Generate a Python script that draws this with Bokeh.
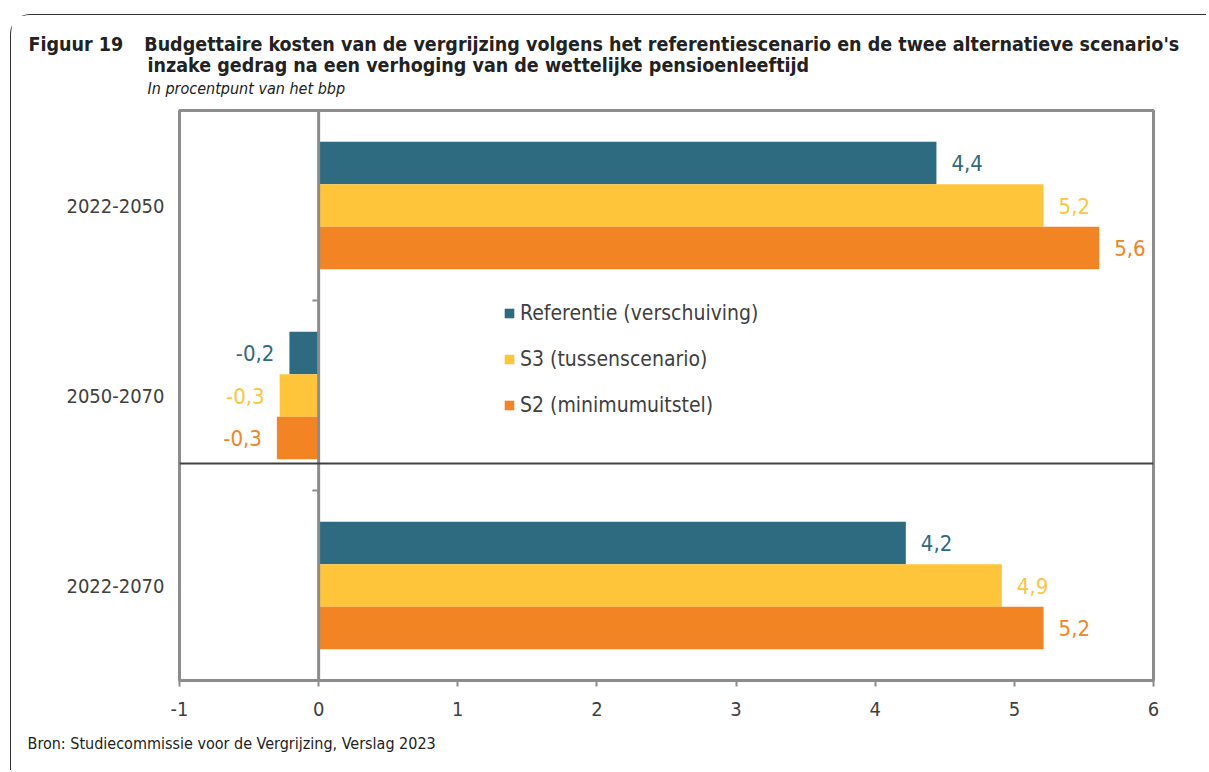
from bokeh.plotting import figure
from bokeh.models import (Range1d, FixedTicker, Span, Legend, LegendItem, Title,
                          ColumnDataSource)
from bokeh.core.properties import value
from bokeh.embed import file_html
from bokeh.resources import INLINE

# ---- data ----
categories = ["2022-2050", "2050-2070", "2022-2070"]
series_names = ["Referentie (verschuiving)", "S3 (tussenscenario)", "S2 (minimumuitstel)"]
referentie = [4.44, -0.21, 4.22]
s3 = [5.21, -0.28, 4.91]
s2 = [5.61, -0.30, 5.21]
x_ticks = [-1, 0, 1, 2, 3, 4, 5, 6]

colors = ["#2E6A80", "#FFC53A", "#F38424"]
FONT = "DejaVu Sans Condensed"
TXT = "#404040"
GRAY = "#8C8C8C"

W, H = 1196, 756
LB, RB, TB, BB = 168, 54, 95, 91
p = figure(width=W, height=H, output_backend="svg", toolbar_location=None,
           x_range=Range1d(-1, 6), y_range=Range1d(0, 3),
           min_border_left=LB, min_border_right=RB, min_border_top=TB, min_border_bottom=BB)
p.margin = (14, 0, 0, 10)
p.styles = {"border-top": "1px solid #333333", "border-left": "1px solid #333333",
            "border-top-left-radius": "20px"}
p.xgrid.visible = False
p.ygrid.visible = False
p.outline_line_color = GRAY
p.outline_line_width = 3
p.background_fill_color = "white"
p.border_fill_color = "white"

fh = H - TB - BB
ky = fh / 3.0

# category positions (top to bottom)
n = len(categories)
centers = [n - 0.5 - i for i in range(n)]
bar_h = 0.2237
offsets = [bar_h, 0.0, -bar_h]

# x axis
p.xaxis.ticker = FixedTicker(ticks=x_ticks)
p.xaxis.major_label_overrides = {t: str(t) for t in x_ticks}
p.xaxis.axis_line_color = GRAY
p.xaxis.axis_line_width = 3
p.xaxis.major_tick_line_color = GRAY
p.xaxis.major_tick_line_width = 2
p.xaxis.major_tick_in = 0
p.xaxis.major_tick_out = 6
p.xaxis.minor_tick_line_color = None
p.xaxis.major_label_text_font = FONT
p.xaxis.major_label_text_font_size = "20px"
p.xaxis.major_label_text_color = TXT
p.xaxis.major_label_standoff = 15

# y axis (category labels)
p.yaxis.ticker = FixedTicker(ticks=centers)
p.yaxis.major_label_overrides = {c: lab for c, lab in zip(centers, categories)}
p.yaxis.axis_line_color = None
p.yaxis.major_tick_line_color = None
p.yaxis.minor_tick_line_color = None
p.yaxis.major_label_text_font = FONT
p.yaxis.major_label_text_font_size = "20px"
p.yaxis.major_label_text_color = TXT
p.yaxis.major_label_standoff = 9

# zero line (category axis) and its ticks at the category boundaries
p.add_layout(Span(location=0, dimension="height", line_color=GRAY, line_width=3))
bounds = [float(i) for i in range(1, n)]
p.segment(x0=[-0.045] * len(bounds), x1=[0] * len(bounds), y0=bounds, y1=bounds,
          line_color=GRAY, line_width=2)

# bars + value labels
renderers = []
for vals, col, off in zip([referentie, s3, s2], colors, offsets):
    ys = [c + off for c in centers]
    labs = [f"{v:.1f}".replace(".", ",") for v in vals]
    src = ColumnDataSource(dict(y=ys, v=vals, lab=labs))
    r = p.hbar(y="y", right="v", left=0, height=bar_h, source=src, fill_color=col, line_color=None)
    renderers.append(r)
    pos = ColumnDataSource(dict(y=[y for y, v in zip(ys, vals) if v >= 0],
                                v=[v for v in vals if v >= 0],
                                lab=[l for l, v in zip(labs, vals) if v >= 0]))
    neg = ColumnDataSource(dict(y=[y for y, v in zip(ys, vals) if v < 0],
                                v=[v for v in vals if v < 0],
                                lab=[l for l, v in zip(labs, vals) if v < 0]))
    p.text(x="v", y="y", text="lab", source=pos, x_offset=15, text_align="left",
           text_baseline="middle", text_color=col, text_font=value(FONT), text_font_size="22px")
    p.text(x="v", y="y", text="lab", source=neg, x_offset=-15, text_align="right",
           text_baseline="middle", text_color=col, text_font=value(FONT), text_font_size="22px")

# separator line
p.add_layout(Span(location=(H - BB - (463 - 15)) / ky, dimension="width",
                  line_color="#404040", line_width=2))

# legend
legend = Legend(items=[LegendItem(label=nm, renderers=[r]) for nm, r in zip(series_names, renderers)],
                location=(324, 263), orientation="vertical",
                glyph_width=12, glyph_height=12, label_standoff=5,
                label_text_font=FONT, label_text_font_size="21px", label_text_color=TXT,
                label_height=21, spacing=22, padding=0, margin=0,
                border_line_color=None, background_fill_alpha=0)
p.add_layout(legend, "center")

# titles (above): later-added titles sit farther from the frame; p.title is outermost
p.add_layout(Title(text="In procentpunt van het bbp",
                   text_font=FONT, text_font_size="16px", text_font_style="italic",
                   text_color="#222222", align="left", offset=-32, standoff=25), "above")
p.add_layout(Title(text="inzake gedrag na een verhoging van de wettelijke pensioenleeftijd",
                   text_font=FONT, text_font_size="19.5px", text_font_style="bold",
                   text_color="#222222", align="left", offset=-32, standoff=-24), "above")
p.title.text = "Figuur 19\u2003\u2009Budgettaire kosten van de vergrijzing volgens het referentiescenario en de twee alternatieve scenario's"
p.title.text_font = FONT
p.title.text_font_size = "19.5px"
p.title.text_font_style = "bold"
p.title.text_color = "#222222"
p.title.align = "left"
p.title.offset = -151
p.title.standoff = 16

p.add_layout(Title(text="Bron: Studiecommissie voor de Vergrijzing, Verslag 2023",
                   text_font=FONT, text_font_size="16px", text_font_style="normal",
                   text_color="#222222", align="left", offset=-152, standoff=26), "below")

open("out.html", "w").write(file_html(p, INLINE))
